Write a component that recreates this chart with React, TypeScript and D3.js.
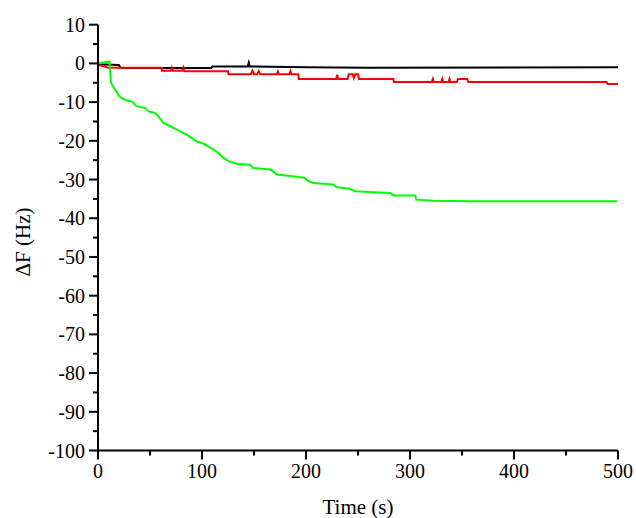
import React from "react";
import * as d3 from "d3";

const W = 636;
const H = 518;

// Black series (time s, ΔF Hz)
const blackT = [0, 20, 22, 109, 110, 144, 145, 146, 200, 260, 500];
const blackV = [-0.2, -0.4, -1.2, -1.2, -0.8, -0.8, 0.2, -0.8, -1.0, -1.1, -1.0];

// Red series
const redT = [0, 4, 10, 61, 61.5, 70, 71, 72, 81, 82, 83, 125, 125.5, 147, 148.5, 150, 153, 154.5, 156, 172, 173, 174, 184, 185, 186, 192.6, 193, 229, 230, 231, 240, 241, 245, 246, 247.5, 250, 251, 284, 284.5, 321, 322, 323, 330, 331, 332, 337, 338, 339, 345, 346, 355, 356, 489, 490, 500];
const redV = [-0.4, -0.6, -1.1, -1.1, -1.9, -1.9, -1.1, -1.9, -1.9, -1.1, -2.0, -2.0, -2.8, -2.8, -1.9, -2.8, -2.8, -2.0, -2.8, -2.8, -2.1, -2.8, -2.8, -2.0, -2.8, -2.8, -4.0, -4.0, -2.9, -4.0, -4.0, -2.8, -2.8, -3.8, -2.8, -2.8, -4.0, -4.0, -4.8, -4.8, -4.0, -4.8, -4.8, -4.0, -4.8, -4.8, -4.0, -4.8, -4.8, -4.0, -4.0, -4.8, -4.8, -5.3, -5.3];

// Green series
const greenT = [0, 11, 12.5, 16.3, 21, 24.3, 28, 32.4, 37.2, 45.2, 48.4, 54.8, 58, 62.8, 70, 75.7, 85.3, 94.9, 101.3, 112.5, 116, 120.5, 126, 133.4, 146, 149.3, 165, 167, 171.8, 185, 199, 201, 207, 226, 229.5, 242, 247, 265, 281, 284, 305, 306, 322, 360, 499];
const greenV = [0, 0.5, -5, -6.8, -8.6, -9.2, -9.6, -9.8, -11.1, -11.5, -12.4, -12.8, -13.6, -15.4, -16.3, -17.1, -18.4, -20.2, -20.7, -22.5, -23.2, -24.4, -25.3, -25.9, -26.2, -27.0, -27.4, -27.6, -28.7, -29.1, -29.6, -30.2, -30.9, -31.3, -32.0, -32.4, -33.0, -33.3, -33.5, -34.1, -34.1, -35.2, -35.5, -35.6, -35.6];

const xTicks = [0, 100, 200, 300, 400, 500];
const xMinor = [50, 150, 250, 350, 450];
const yTicks = [10, 0, -10, -20, -30, -40, -50, -60, -70, -80, -90, -100];
const yMinor = [5, -5, -15, -25, -35, -45, -55, -65, -75, -85, -95];

const FONT = "Liberation Serif, Times New Roman, serif";
const tickTxt = { fontFamily: FONT, fontSize: "20px" } as React.CSSProperties;
const titleTxt = { fontFamily: FONT, fontSize: "21px" } as React.CSSProperties;

export default function App() {
  const x = d3.scaleLinear().domain([0, 500]).range([98, 618]);
  const y = d3.scaleLinear().domain([10, -100]).range([24.7, 450.5]);

  const mk = (ts: number[], vs: number[]) =>
    d3
      .line<number>()
      .x((_, i) => x(ts[i]))
      .y((v) => y(v))(vs) || "";

  const x0 = x(0);
  const yBase = y(-100);

  return (
    <svg
      width={W}
      height={H}
      style={{ position: "absolute", left: 0, top: 0, background: "#fff" }}
    >
      <rect width={W} height={H} fill="#fff" />
      {/* lines */}
      <path d={mk(blackT, blackV)} fill="none" stroke="#000" strokeWidth={2} />
      <path d={mk(redT, redV)} fill="none" stroke="#ff0000" strokeWidth={2} />
      <path d={mk(greenT, greenV)} fill="none" stroke="#00ff00" strokeWidth={2} />

      {/* axes */}
      <line x1={x0} x2={x0} y1={y(10)} y2={yBase} stroke="#000" strokeWidth={2} />
      <line x1={x0} x2={x(500)} y1={yBase} y2={yBase} stroke="#000" strokeWidth={2} />

      {yTicks.map((t) => (
        <g key={"yt" + t}>
          <line x1={x0 - 9} x2={x0} y1={y(t)} y2={y(t)} stroke="#000" strokeWidth={2} />
          <text x={85} y={y(t)} dy="0.35em" textAnchor="end" style={tickTxt} fill="#000">
            {t}
          </text>
        </g>
      ))}
      {yMinor.map((t) => (
        <line key={"ym" + t} x1={x0 - 5} x2={x0} y1={y(t)} y2={y(t)} stroke="#000" strokeWidth={2} />
      ))}
      {xTicks.map((t) => (
        <g key={"xt" + t}>
          <line x1={x(t)} x2={x(t)} y1={yBase} y2={yBase + 9} stroke="#000" strokeWidth={2} />
          <text x={x(t)} y={478} textAnchor="middle" style={tickTxt} fill="#000">
            {t}
          </text>
        </g>
      ))}
      {xMinor.map((t) => (
        <line key={"xm" + t} x1={x(t)} x2={x(t)} y1={yBase} y2={yBase + 5} stroke="#000" strokeWidth={2} />
      ))}

      <text x={358} y={514} textAnchor="middle" style={titleTxt} fill="#000">
        Time (s)
      </text>
      <text transform="translate(30,242) rotate(-90)" textAnchor="middle" style={titleTxt} fill="#000">
        ΔF (Hz)
      </text>
    </svg>
  );
}
